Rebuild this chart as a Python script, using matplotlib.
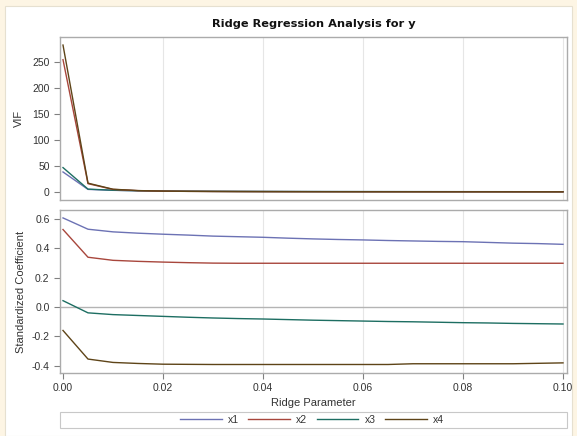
import numpy as np
import matplotlib.pyplot as plt
from matplotlib.lines import Line2D
from matplotlib.patches import Rectangle

# Ridge parameter values (0 to 0.1 by 0.005)
ridge_k = [0.000, 0.005, 0.010, 0.015, 0.020, 0.025, 0.030, 0.035, 0.040, 0.045, 0.050,
           0.055, 0.060, 0.065, 0.070, 0.075, 0.080, 0.085, 0.090, 0.095, 0.100]

series_names = ['x1', 'x2', 'x3', 'x4']

# VIF
vif_x1 = [38.5, 5.0, 3.2, 2.3, 1.7, 1.4, 1.2, 1.05, 0.95, 0.88, 0.82,
          0.77, 0.73, 0.70, 0.67, 0.64, 0.62, 0.60, 0.58, 0.56, 0.55]
vif_x2 = [254.4, 16.0, 5.0, 2.6, 1.6, 1.2, 0.95, 0.80, 0.70, 0.62, 0.56,
          0.52, 0.48, 0.45, 0.43, 0.41, 0.39, 0.37, 0.36, 0.35, 0.34]
vif_x3 = [46.9, 5.5, 3.4, 2.4, 1.8, 1.5, 1.25, 1.1, 0.98, 0.90, 0.84,
          0.79, 0.75, 0.71, 0.68, 0.65, 0.63, 0.61, 0.59, 0.57, 0.56]
vif_x4 = [282.5, 17.0, 5.3, 2.7, 1.7, 1.25, 1.0, 0.84, 0.73, 0.65, 0.59,
          0.54, 0.50, 0.47, 0.45, 0.42, 0.40, 0.39, 0.37, 0.36, 0.35]

# standardized coefficients
coef_x1 = [0.607, 0.530, 0.512, 0.503, 0.496, 0.490, 0.483, 0.479, 0.475, 0.469, 0.464,
           0.460, 0.457, 0.453, 0.450, 0.447, 0.445, 0.440, 0.435, 0.432, 0.427]
coef_x2 = [0.528, 0.339, 0.318, 0.311, 0.306, 0.302, 0.299, 0.298, 0.298, 0.298, 0.298,
           0.298, 0.298, 0.298, 0.298, 0.298, 0.298, 0.298, 0.298, 0.298, 0.298]
coef_x3 = [0.043, -0.040, -0.052, -0.058, -0.064, -0.070, -0.075, -0.079, -0.082, -0.086, -0.090,
           -0.093, -0.096, -0.099, -0.101, -0.104, -0.107, -0.109, -0.112, -0.114, -0.116]
coef_x4 = [-0.160, -0.355, -0.378, -0.385, -0.390, -0.391, -0.392, -0.392, -0.392, -0.392, -0.392,
           -0.392, -0.392, -0.392, -0.387, -0.387, -0.387, -0.387, -0.387, -0.384, -0.381]

colores = ['#6c72b4', '#a8463c', '#1d6e62', '#5e4418']

plt.rcParams['font.family'] = ['Liberation Sans', 'DejaVu Sans']

W, H = 577, 436
fig = plt.figure(figsize=(W / 100, H / 100), dpi=100)
fig.patch.set_facecolor('#fdf5e4')
fondo = Rectangle((5 / W, 0), 567 / W, 430 / H, transform=fig.transFigure,
                  facecolor='white', edgecolor='#e6e0d0', lw=0.8, zorder=-5)
fig.add_artist(fondo)

def caja(left, top, right, bottom):
    return [left / W, 1 - bottom / H, (right - left) / W, (bottom - top) / H]

ax1 = fig.add_axes(caja(60, 37, 567, 200))
ax2 = fig.add_axes(caja(60, 210, 567, 373))

frame = '#ababab'
for ax in (ax1, ax2):
    for s in ax.spines.values():
        s.set_color(frame)
        s.set_linewidth(1.0)
    ax.set_xlim(-0.0006, 0.1008)
    ax.set_xticks([0, 0.02, 0.04, 0.06, 0.08, 0.10])
    for xv in [0.02, 0.04, 0.06, 0.08, 0.10]:
        ax.axvline(xv, color='#e6e6e6', lw=0.8, zorder=0)
    ax.tick_params(colors='#808080', labelcolor='#333333', labelsize=7.5, length=4, width=0.8)

vifs = [vif_x1, vif_x2, vif_x3, vif_x4]
coefs = [coef_x1, coef_x2, coef_x3, coef_x4]
orden = [0, 2, 1, 3]
for i in orden:
    ax1.plot(ridge_k, vifs[i], color=colores[i], lw=1.0)
for i in range(4):
    ax2.plot(ridge_k, coefs[i], color=colores[i], lw=1.0)

ax1.set_ylim(-15.4, 298)
ax1.set_yticks([0, 50, 100, 150, 200, 250])
ax1.tick_params(axis='x', bottom=False, labelbottom=False)
ax1.set_ylabel('VIF', fontsize=8, color='#333333', labelpad=6)

ax2.set_ylim(-0.45, 0.661)
ax2.set_yticks([-0.4, -0.2, 0.0, 0.2, 0.4, 0.6])
ax2.set_yticklabels(['-0.4', '-0.2', '0.0', '0.2', '0.4', '0.6'])
ax2.set_xticklabels(['0.00', '0.02', '0.04', '0.06', '0.08', '0.10'])
ax2.axhline(0, color='#b4b4b4', lw=1.0, zorder=1)
ax2.set_ylabel('Standardized Coefficient', fontsize=8, color='#333333', labelpad=4)
ax2.set_xlabel('Ridge Parameter', fontsize=8, color='#333333', labelpad=3)

fig.text(314 / W, 1 - 24 / H, 'Ridge Regression Analysis for y', ha='center', va='center',
         fontsize=8.2, fontweight='bold', family=['DejaVu Sans'], color='#111111')

# caja de la leyenda
fig.add_artist(Rectangle((60 / W, 1 - 428 / H), 507 / W, 16 / H, transform=fig.transFigure,
                         facecolor='white', edgecolor='#c8c8c8', lw=0.8, zorder=-4))
handles = [Line2D([], [], color=c, lw=1.0) for c in colores]
fig.legend(handles, series_names, loc='center', bbox_to_anchor=(312 / W, 1 - 420 / H),
           ncol=4, frameon=False, fontsize=7.5, handlelength=4.0, columnspacing=0.9,
           handletextpad=0.6, labelcolor='#333333')

fig.savefig('out.png', dpi=100, facecolor=fig.get_facecolor())
